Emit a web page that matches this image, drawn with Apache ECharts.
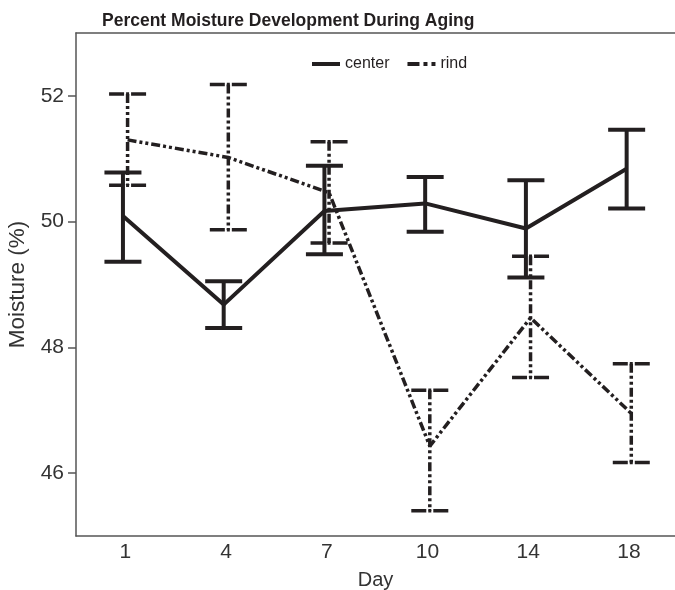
<!DOCTYPE html>
<html>
<head>
<meta charset="utf-8">
<script src="https://cdn.jsdelivr.net/npm/echarts@6/dist/echarts.min.js"></script>
<style>html,body{margin:0;padding:0;background:#fff}#c{width:675px;height:590px}</style>
</head>
<body>
<div id="c"></div>
<script>
// ---- data ----
var days = ['1', '4', '7', '10', '14', '18'];
var centerMean = [50.09, 48.68, 50.17, 50.29, 49.89, 50.84];
var centerLow  = [49.36, 48.31, 49.48, 49.84, 49.11, 50.21];
var centerHigh = [50.78, 49.05, 50.89, 50.71, 50.66, 51.46];
var rindMean = [51.30, 51.02, 50.46, 46.43, 48.47, 46.95];
var rindLow  = [50.58, 49.87, 49.66, 45.40, 47.52, 46.17];
var rindHigh = [52.03, 52.18, 51.27, 47.32, 49.45, 47.74];
var yTicks = [46, 48, 50, 52];

var FONT = '"Liberation Sans", Arial, Helvetica, sans-serif';
var INK = '#231f20';
var DODGE = 0.023;
var RIND_DASH = [9, 3, 3, 3, 3, 3];

function pts(means, off) {
  return means.map(function (v, i) { return [i + off, v]; });
}
function bars(lo, hi, off) {
  return lo.map(function (v, i) { return [i + off, v, hi[i]]; });
}
function errorRender(dashed) {
  return function (params, api) {
    var x = api.value(0);
    var lo = api.coord([x, api.value(1)]);
    var hi = api.coord([x, api.value(2)]);
    var hw = 18.5;
    var style = { stroke: INK, lineWidth: dashed ? 3.5 : 4, fill: null };
    var vStyle = Object.assign({}, style, dashed ? { lineDash: RIND_DASH } : {});
    var cStyle = Object.assign({}, style, dashed ? { lineDash: [15, 2, 3, 2, 15] } : {});
    return {
      type: 'group',
      children: [
        { type: 'line', shape: { x1: hi[0], y1: hi[1], x2: lo[0], y2: lo[1] }, style: vStyle },
        { type: 'line', shape: { x1: hi[0] - hw, y1: hi[1], x2: hi[0] + hw, y2: hi[1] }, style: cStyle },
        { type: 'line', shape: { x1: lo[0] - hw, y1: lo[1], x2: lo[0] + hw, y2: lo[1] }, style: cStyle }
      ]
    };
  };
}

var chart = echarts.init(document.getElementById('c'), null, { renderer: 'canvas' });
chart.setOption({
  animation: false,
  backgroundColor: '#fff',
  textStyle: { fontFamily: FONT },
  title: {
    text: 'Percent Moisture Development During Aging',
    left: 97, top: 7,
    textStyle: { fontFamily: FONT, fontWeight: 'bold', fontSize: 17.5, color: INK }
  },
  legend: {
    top: 51, left: 307,
    itemWidth: 28, itemHeight: 4, itemGap: 18,
    textStyle: { fontFamily: FONT, fontSize: 16, color: INK },
    data: [
      { name: 'center', icon: 'rect', itemStyle: { color: INK } },
      { name: 'rind', icon: 'path://M0,0h12v4h-12z M16,0h4v4h-4z M24,0h4v4h-4z', itemStyle: { color: INK } }
    ]
  },
  grid: { left: 76, right: 0, top: 33, bottom: 54, outerBoundsMode: 'none', containLabel: false },
  xAxis: [{
    type: 'value', min: -0.489, max: 5.457,
    name: 'Day', nameLocation: 'middle', nameGap: 34,
    nameTextStyle: { fontFamily: FONT, fontSize: 20, color: '#333' },
    axisLine: { show: true, onZero: false, lineStyle: { color: '#555', width: 1.5 } },
    axisTick: { show: false },
    splitLine: { show: false },
    axisLabel: {
      customValues: [0, 1, 2, 3, 4, 5],
      formatter: function (v) { return days[Math.round(v)]; },
      fontFamily: FONT, fontSize: 21, color: '#333', margin: 6
    }
  }, {
    type: 'value', position: 'top', min: -0.489, max: 5.457,
    axisLine: { show: true, onZero: false, lineStyle: { color: '#555', width: 1.5 } },
    axisTick: { show: false }, axisLabel: { show: false }, splitLine: { show: false }
  }],
  yAxis: {
    type: 'value', min: 45, max: 53,
    name: 'Moisture (%)', nameLocation: 'middle', nameGap: 47,
    nameTextStyle: { fontFamily: FONT, fontSize: 22.5, color: '#333' },
    axisLine: { show: true, onZero: false, lineStyle: { color: '#555', width: 1.5 } },
    axisTick: { show: true, length: 8, customValues: yTicks, lineStyle: { color: '#555', width: 1.5 } },
    splitLine: { show: false },
    axisLabel: { customValues: yTicks, fontFamily: FONT, fontSize: 21, color: '#333', margin: 12 }
  },
  series: [
    {
      name: 'center', type: 'line', data: pts(centerMean, -DODGE),
      symbol: 'none', z: 3,
      lineStyle: { color: INK, width: 4 },
      itemStyle: { color: INK }
    },
    {
      name: 'rind', type: 'line', data: pts(rindMean, DODGE),
      symbol: 'none', z: 2,
      lineStyle: { color: INK, width: 3.5, type: RIND_DASH },
      itemStyle: { color: INK }
    },
    {
      name: 'rind', type: 'custom', data: bars(rindLow, rindHigh, DODGE),
      renderItem: errorRender(true), z: 2
    },
    {
      name: 'center', type: 'custom', data: bars(centerLow, centerHigh, -DODGE),
      renderItem: errorRender(false), z: 3
    }
  ]
});
</script>
</body>
</html>
